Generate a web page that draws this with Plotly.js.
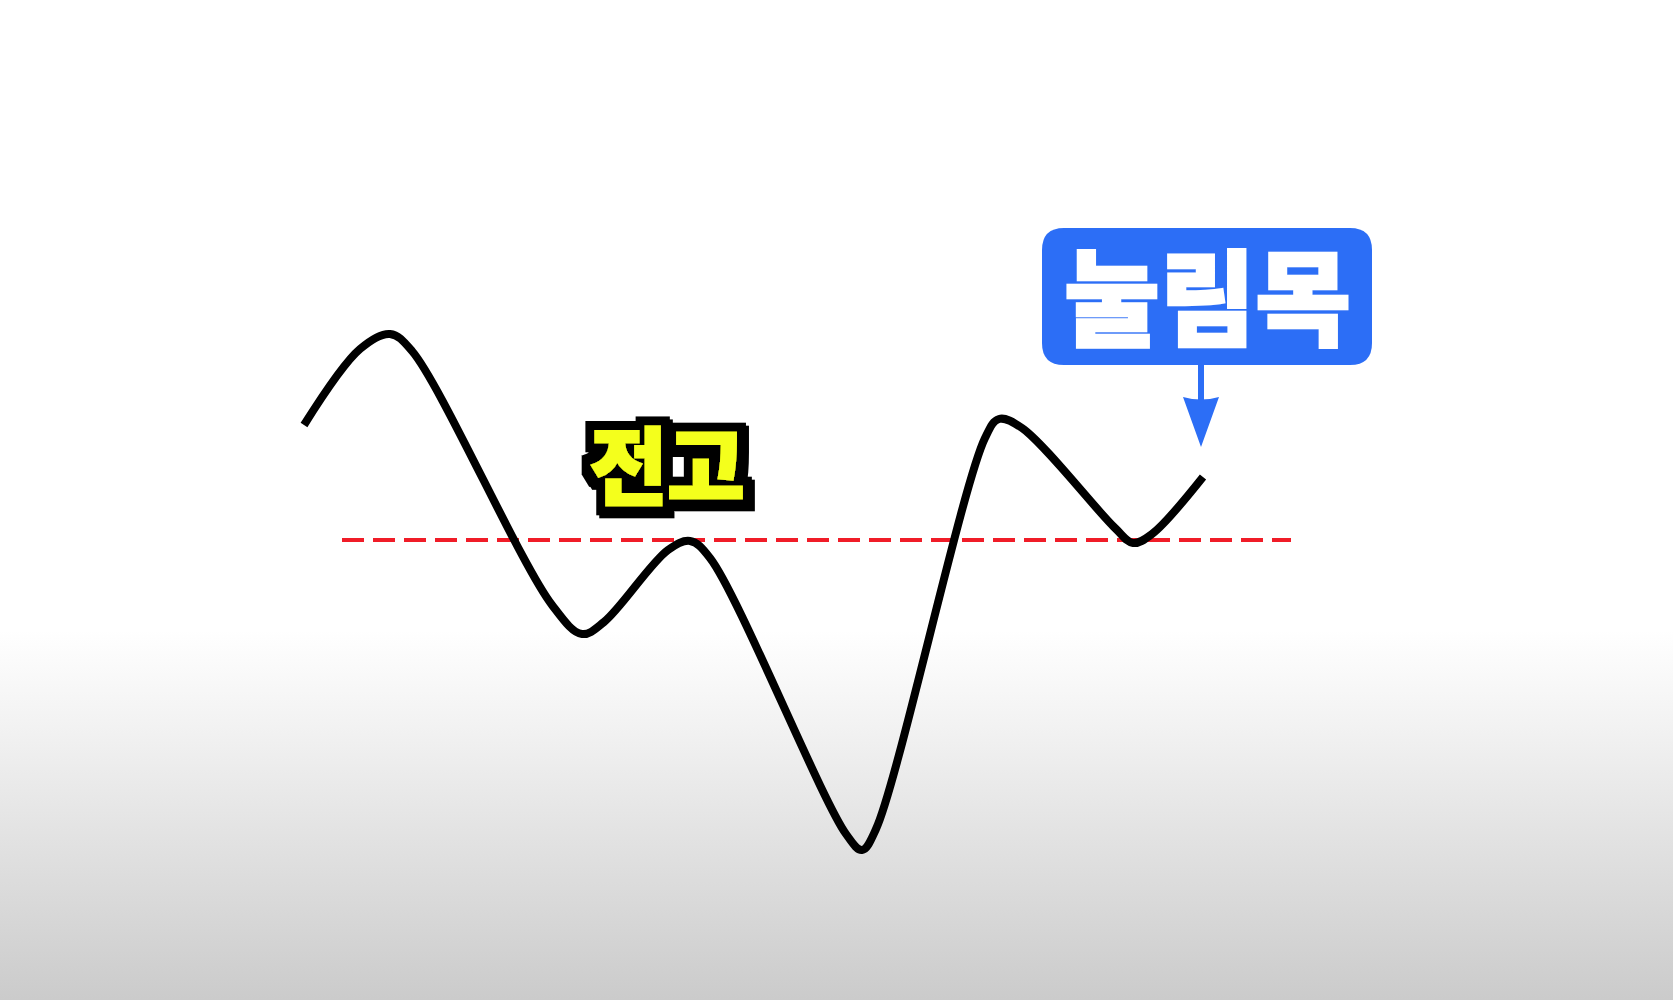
<!DOCTYPE html>
<html>
<head>
<meta charset="utf-8">
<script src="https://cdn.plot.ly/plotly-3.0.1.min.js"></script>
<style>
  html, body { margin: 0; padding: 0; }
  body {
    width: 1673px; height: 1000px; overflow: hidden;
    background: linear-gradient(to bottom, #ffffff 0%, #ffffff 63%, #f3f3f3 72%, #cbcbcb 100%);
  }
  #chart { width: 1673px; height: 1000px; }
</style>
</head>
<body>
<svg width="0" height="0" style="position:absolute">
  <defs>
    <filter id="outlineBlack" x="-30%" y="-50%" width="160%" height="200%">
      <feMorphology in="SourceAlpha" operator="dilate" radius="9" result="dil"/>
      <feOffset in="dil" dx="3" dy="3" result="off"/>
      <feMerge result="both"><feMergeNode in="dil"/><feMergeNode in="off"/></feMerge>
      <feFlood flood-color="#000000" result="ink"/>
      <feComposite in="ink" in2="both" operator="in" result="blk"/>
      <feMerge><feMergeNode in="blk"/><feMergeNode in="SourceGraphic"/></feMerge>
    </filter>
  </defs>
</svg>
<div id="chart"></div>
<script>
// ---- data ----
// price path: horizontal position and price level (turning points and their shoulders)
const pathX = [304, 360, 390, 412, 552, 582, 604, 668, 690, 710, 846, 862, 876, 985, 999, 1022, 1115, 1133, 1152, 1203];
const pathY = [575, 651, 666, 649, 395, 366, 378, 450, 459, 442, 166, 150, 171, 562, 581, 572, 472, 457, 466, 523];

// previous high (전고) level line
const prevHighLevel = 460;
const prevHighX = [342, 1291];

// labels
const labelPrevHigh = "전고";
const labelPullback = "눌림목";

// ---- styling ----
const yellow = "#f4ff1c";
const blue = "#2c6ef6";

const traces = [
  {
    x: prevHighX,
    y: [prevHighLevel, prevHighLevel],
    type: "scatter",
    mode: "lines",
    line: { color: "#f01c28", width: 4, dash: "22px,9px" },
    hoverinfo: "skip"
  },
  {
    x: pathX,
    y: pathY,
    type: "scatter",
    mode: "lines",
    line: { color: "#000000", width: 8, shape: "spline", smoothing: 1 },
    hoverinfo: "skip"
  }
];

// rounded box geometry for the 눌림목 callout
const bx0 = 1042, bx1 = 1372, by0 = 635, by1 = 772, br = 22;
const boxPath =
  `M ${bx0 + br},${by1} L ${bx1 - br},${by1} Q ${bx1},${by1} ${bx1},${by1 - br} ` +
  `L ${bx1},${by0 + br} Q ${bx1},${by0} ${bx1 - br},${by0} ` +
  `L ${bx0 + br},${by0} Q ${bx0},${by0} ${bx0},${by0 + br} ` +
  `L ${bx0},${by1 - br} Q ${bx0},${by1} ${bx0 + br},${by1} Z`;

const ax = 1201;
const arrowHead = `M ${ax - 18},${603} Q ${ax},${598} ${ax + 18},${603} L ${ax},${553} Z`;

const layout = {
  width: 1673,
  height: 1000,
  margin: { l: 0, r: 0, t: 0, b: 0 },
  paper_bgcolor: "rgba(0,0,0,0)",
  plot_bgcolor: "rgba(0,0,0,0)",
  showlegend: false,
  xaxis: { range: [0, 1673], visible: false, fixedrange: true },
  yaxis: { range: [0, 1000], visible: false, fixedrange: true },
  shapes: [
    { type: "path", path: boxPath, fillcolor: blue, line: { width: 0 }, layer: "above" },
    { type: "line", x0: ax, x1: ax, y0: 636, y1: 600, line: { color: blue, width: 6 }, layer: "above" },
    { type: "path", path: arrowHead, fillcolor: blue, line: { width: 0 }, layer: "above" }
  ],
  annotations: [
    {
      x: 667, y: 539, xref: "x", yref: "y",
      text: labelPrevHigh,
      showarrow: false,
      font: {
        family: "Noto Sans CJK KR, sans-serif",
        size: 84, weight: 900, color: yellow
      }
    },
    {
      x: 1207, y: 708, xref: "x", yref: "y",
      text: labelPullback,
      showarrow: false,
      font: {
        family: "Noto Sans CJK KR, sans-serif",
        size: 104, weight: 900, color: "#ffffff"
      }
    }
  ]
};

Plotly.newPlot("chart", traces, layout, { staticPlot: true, displayModeBar: false }).then(function (gd) {
  // heavier glyphs and blocky black outline, like the display font in the source
  const texts = gd.querySelectorAll(".annotation-text");
  if (texts[0]) {
    texts[0].style.stroke = yellow;
    texts[0].style.strokeWidth = "2.5px";
    texts[0].setAttribute("filter", "url(#outlineBlack)");
  }
  if (texts[1]) {
    texts[1].style.stroke = "#ffffff";
    texts[1].style.strokeWidth = "2.5px";
  }
});
</script>
</body>
</html>
